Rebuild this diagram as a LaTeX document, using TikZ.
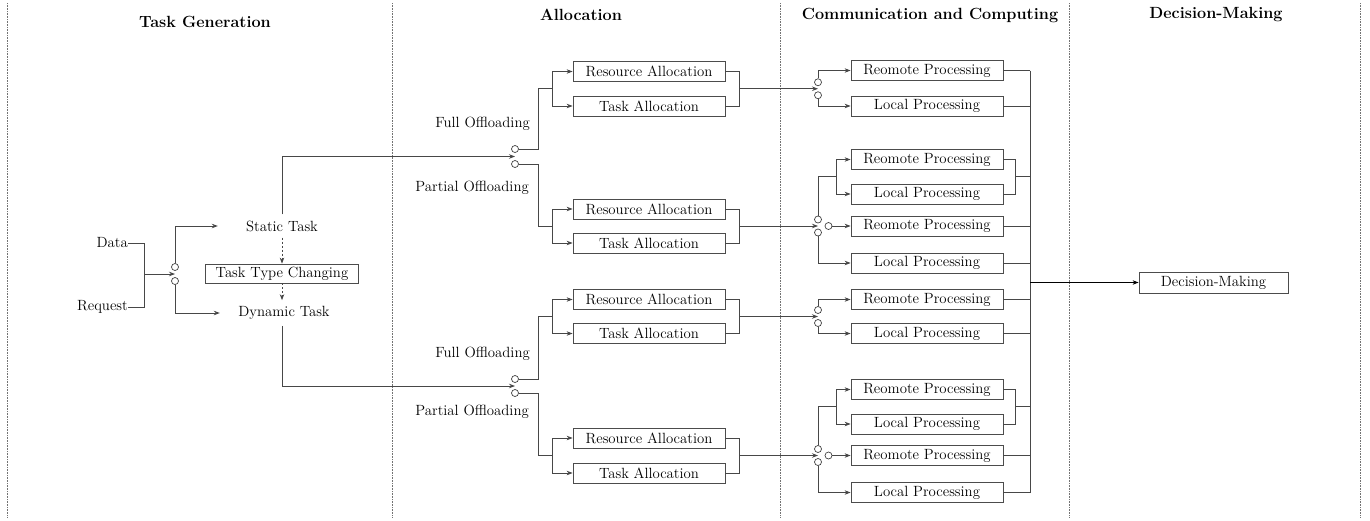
\documentclass[tikz,border=0pt]{standalone}
\usetikzlibrary{arrows.meta}
\begin{document}
\begin{tikzpicture}[x=1pt,y=-1pt,
  font=\fontsize{14.8}{17}\selectfont,
  ln/.style={draw=black!72, line width=0.8pt},
  arr/.style={ln, -{Stealth[length=6pt,width=4.5pt]}},
  box/.style={draw=black!70, line width=0.8pt, minimum width=152pt, minimum height=20pt, inner sep=0pt},
  jc/.style={circle, draw=black!75, line width=0.7pt, fill=white, minimum size=7pt, inner sep=0pt},
  sep/.style={draw=black!55, densely dotted, line width=0.6pt},
  hdr/.style={font=\fontsize{16.2}{18}\selectfont\bfseries},
  lbl/.style={inner sep=0pt},
  tsk/.style={inner xsep=0pt, inner ysep=6pt, minimum width=128pt}]
\useasboundingbox (0,0) rectangle (1370,520);

% separators
\foreach \x in {7,392,780,1069,1360} \draw[sep] (\x,3) -- (\x,518);

% headers
\node[hdr] (h1) at (205,22) {Task Generation};
\node[hdr] (h2) at (581,15) {Allocation};
\node[hdr] (h3) at (930,15) {Communication and Computing};
\node[hdr] (h4) at (1216,15) {Decision-Making};

% ---------------- Task generation
\node[lbl, anchor=east] (data) at (128,243) {Data};
\node[lbl, anchor=east] (req) at (128,307) {Request};
\coordinate (jdr) at (144,274);
\node[jc] (t1u) at (175,267) {};
\node[jc] (t1d) at (175,281) {};
\coordinate (t1m) at (175,274);
\node[tsk] (st) at (282,226) {Static Task};
\node[tsk] (dt) at (284,313) {Dynamic Task};
\node[box, minimum width=153pt, minimum height=19pt] (ttc) at (282,273.5) {Task Type Changing};

\draw[ln] (data.east) -| (jdr);
\draw[ln] (req.east) -| (jdr);
\draw[arr] (jdr) -- (t1m);
\draw[arr] (t1u.north) |- (st.west);
\draw[arr] (t1d.south) |- (dt.west);
\draw[arr, dash pattern=on 2pt off 2pt] (st.south) -- (ttc.north);
\draw[arr, dash pattern=on 2pt off 2pt] (ttc.south) -- (ttc.south |- dt.north);

% ---------------- Allocation
\node[jc] (a1u) at (515,149) {};
\node[jc] (a1d) at (515,164) {};
\coordinate (a1m) at (515,156.5);
\node[jc] (a2u) at (515,379) {};
\node[jc] (a2d) at (515,393) {};
\coordinate (a2m) at (515,386);

\draw[arr] (st.north) |- (a1m);
\draw[arr] (dt.south -| st.south) |- (a2m);

\node[lbl, anchor=east] (fo1) at (530,124) {Full Offloading};
\node[lbl, anchor=east] (po1) at (529,188) {Partial Offloading};
\node[lbl, anchor=east] (fo2) at (530,354) {Full Offloading};
\node[lbl, anchor=east] (po2) at (529,412) {Partial Offloading};

\node[box] (ra1) at (649,71.5) {Resource Allocation};
\node[box] (ta1) at (649,106) {Task Allocation};
\node[box] (ra2) at (649,209) {Resource Allocation};
\node[box] (ta2) at (649,243) {Task Allocation};
\node[box] (ra3) at (649,299.5) {Resource Allocation};
\node[box] (ta3) at (649,333.5) {Task Allocation};
\node[box] (ra4) at (649,438) {Resource Allocation};
\node[box] (ta4) at (649,473) {Task Allocation};

\coordinate (k1) at (538,88.75); \coordinate (f1) at (552,88.75);
\coordinate (k2) at (538,226);   \coordinate (f2) at (552,226);
\coordinate (k3) at (538,316.5); \coordinate (f3) at (552,316.5);
\coordinate (k4) at (538,455.5); \coordinate (f4) at (552,455.5);

\draw[ln] (a1u.east) -| (k1) -- (f1);
\draw[ln] (a1d.east) -| (k2) -- (f2);
\draw[ln] (a2u.east) -| (k3) -- (f3);
\draw[ln] (a2d.east) -| (k4) -- (f4);
\foreach \i in {1,2,3,4}{
  \draw[arr] (f\i) |- (ra\i.west);
  \draw[arr] (f\i) |- (ta\i.west);
}

\coordinate (r1) at (739,88.75);
\coordinate (r2) at (739,226);
\coordinate (r3) at (739,316.5);
\coordinate (r4) at (739,455.5);
\foreach \i in {1,2,3,4}{
  \draw[ln] (ra\i.east) -| (r\i);
  \draw[ln] (ta\i.east) -| (r\i);
}

% ---------------- Communication and computing
\node[jc] (c1u) at (818,82.25) {};
\node[jc] (c1d) at (818,95.25) {};
\coordinate (c1m) at (818,88.75);
\node[jc] (c2u) at (818,219.5) {};
\node[jc] (c2d) at (818,232.5) {};
\node[jc] (c2r) at (828.5,226) {};
\coordinate (c2m) at (818,226);
\node[jc] (c3u) at (818,310) {};
\node[jc] (c3d) at (818,323) {};
\coordinate (c3m) at (818,316.5);
\node[jc] (c4u) at (818,449) {};
\node[jc] (c4d) at (818,462) {};
\node[jc] (c4r) at (828.5,455.5) {};
\coordinate (c4m) at (818,455.5);

\foreach \i in {1,2,3,4} \draw[arr] (r\i) -- (c\i m);

\node[box] (rp1) at (927,70.5) {Reomote Processing};
\node[box] (lp1) at (927,106) {Local Processing};
\node[box] (rp2) at (927,159.5) {Reomote Processing};
\node[box] (lp2) at (927,194) {Local Processing};
\node[box] (rp2b) at (927,226) {Reomote Processing};
\node[box] (lp2b) at (927,263) {Local Processing};
\node[box] (rp3) at (927,299.5) {Reomote Processing};
\node[box] (lp3) at (927,333.5) {Local Processing};
\node[box] (rp4) at (927,389.5) {Reomote Processing};
\node[box] (lp4) at (927,424) {Local Processing};
\node[box] (rp4b) at (927,455.5) {Reomote Processing};
\node[box] (lp4b) at (927,492.5) {Local Processing};

\draw[arr] (c1u.north) |- (rp1.west);
\draw[arr] (c1d.south) |- (lp1.west);
\draw[arr] (c3u.north) |- (rp3.west);
\draw[arr] (c3d.south) |- (lp3.west);

\coordinate (s2) at (836,176.75);
\coordinate (s4) at (836,406.75);
\draw[ln] (c2u.north) |- (s2);
\draw[arr] (s2) |- (rp2.west);
\draw[arr] (s2) |- (lp2.west);
\draw[arr] (c2r.east) -- (rp2b.west);
\draw[arr] (c2d.south) |- (lp2b.west);
\draw[ln] (c4u.north) |- (s4);
\draw[arr] (s4) |- (rp4.west);
\draw[arr] (s4) |- (lp4.west);
\draw[arr] (c4r.east) -- (rp4b.west);
\draw[arr] (c4d.south) |- (lp4b.west);

% bus
\coordinate (bt) at (1030,70.5);
\coordinate (bb) at (1030,492.5);
\coordinate (bm) at (1030,282.5);
\draw[ln] (bt) -- (bb);
\coordinate (q2) at (1015,176.75);
\coordinate (q4) at (1015,406.75);
\draw[ln] (rp2.east) -| (q2);
\draw[ln] (lp2.east) -| (q2);
\draw[ln] (q2) -- (q2 -| bt);
\draw[ln] (rp4.east) -| (q4);
\draw[ln] (lp4.east) -| (q4);
\draw[ln] (q4) -- (q4 -| bt);
\foreach \n in {rp1,lp1,rp2b,lp2b,rp3,lp3,rp4b,lp4b}
  \draw[ln] (\n.east) -- (\n.east -| bt);

% ---------------- Decision making
\node[box, minimum width=149pt, minimum height=21pt] (dm) at (1213.5,282.5) {Decision-Making};
\draw[arr, draw=black, line width=1.1pt] (bm) -- (dm.west);
\end{tikzpicture}
\end{document}
